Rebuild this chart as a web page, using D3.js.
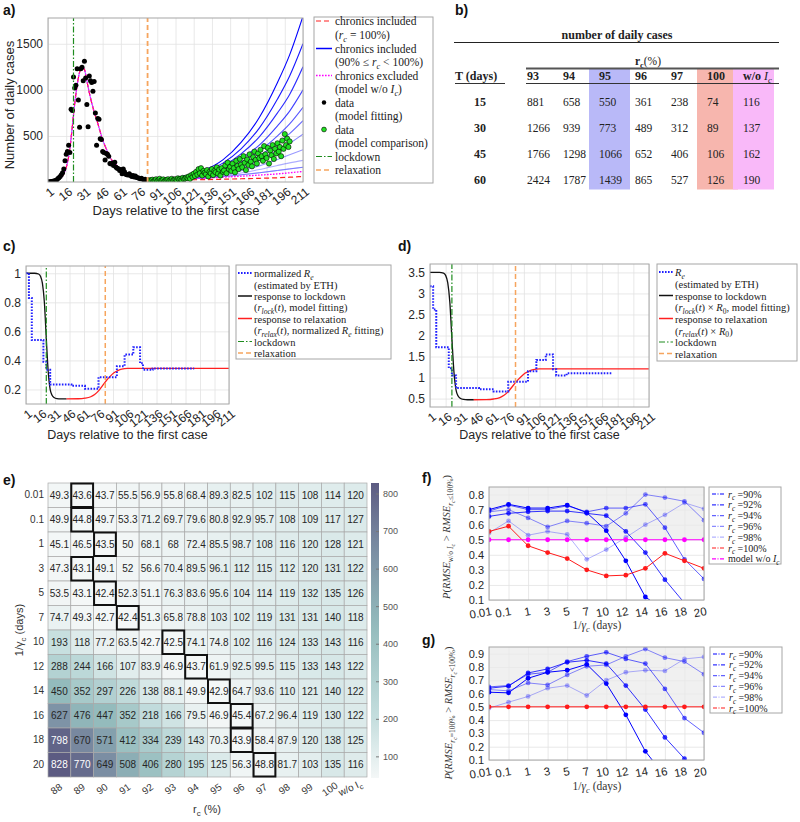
<!DOCTYPE html>
<html><head><meta charset="utf-8">
<script src="https://cdn.jsdelivr.net/npm/d3@7"></script>
<style>body{margin:0;background:#fff}</style>
</head><body>
<svg id="chart" width="800" height="822"></svg>
<script>
// ================= DATA =================
// panel a
const dayTicks = [1,16,31,46,61,76,91,106,121,136,151,166,181,196,211];
const caseTicks = [500,1000,1500];
const lockdownDay = 22, relaxDay = 83;
const fitStartDay = 1;
const dataFitCases = [0,2,3,5,8,10,15,20,35,45,
  60,80,100,140,230,300,330,400,320,790,
  775,1140,1020,1050,1230,890,595,1230,1245,1100,
  1310,1130,840,600,1150,1100,1080,985,1090,750,
  400,690,680,470,460,330,320,240,310,300,
  280,200,195,205,180,215,160,150,145,125,
  135,90,140,110,85,80,75,90,70,60,
  70,55,65,50,45,40,35,40,30,25,
  30,20,25,15];
const compStartDay = 85;
const dataCompCases = [20,15,25,10,18,30,12,22,35,15,20,28,10,18,25,30,
  15,22,35,18,25,30,20,40,28,35,22,45,30,38,50,
  42,60,35,75,55,90,65,110,80,140,95,150,70,120,100,
  85,130,60,110,95,140,75,120,105,160,90,135,70,150,110,
  125,180,95,210,140,165,120,200,150,105,230,175,140,250,190,
  160,280,210,130,245,185,300,220,170,270,330,240,200,310,260,
  350,280,230,390,300,260,370,200,340,290,400,250,360,310,420,
  330,380,280,450,360,520,400,470,380,440];
const fitDays  = [1,5,10,14,17,19,21,23,25,27,29,31,33,35,37,39,41,43,46,49,52,56,60,65,71,76,80];
const fitCases = [2,6,30,90,210,360,600,850,1050,1190,1245,1220,1100,970,860,760,680,590,460,360,270,200,150,105,80,55,35];
const modelDays = [84,100,115,130,145,160,175,190,200,211];
const rcBlue = [90,91,92,93,94,95,96,97,98,99];
const blueCurves = [
  [25,35,70,130,240,430,700,1080,1380,1800],
  [25,33,62,115,205,360,585,900,1150,1500],
  [25,32,57,100,175,305,490,750,950,1250],
  [25,31,52,88,150,255,400,610,770,1000],
  [25,30,48,78,130,215,335,500,630,810],
  [25,29,45,70,115,185,285,420,525,665],
  [25,28,42,63,100,155,235,340,420,520],
  [25,27,38,55,83,123,175,245,295,350],
  [25,26,35,48,70,98,135,180,208,235],
  [25,26,33,43,58,78,100,125,142,160]];
const redCurve100 = [25,24,24,26,30,35,40,46,52,60];
const magentaNoIc = [25,27,33,42,52,63,75,88,100,115];

// panel b
const tableRc = ['93','94','95','96','97','100','w/o Ic'];
const tableT = [15,30,45,60];
const tableVals = [
  [881,658,550,361,238,74,116],
  [1266,939,773,489,312,89,137],
  [1766,1298,1066,652,406,106,162],
  [2424,1787,1439,865,527,126,190]];

// panels c, d
const reTicksC = [0.2,0.4,0.6,0.8,1];
const reTicksD = [0.5,1,1.5,2,2.5,3,3.5];
const reDays = [1,4,7,19,22,26,48,62,76,95,103,112,119,122,132,175];
const reNorm = [1.0,0.83,0.54,0.39,0.335,0.235,0.225,0.205,0.285,0.36,0.44,0.49,0.38,0.335,0.345,0.345];
const reEst  = [3.17,2.62,1.72,1.22,1.05,0.75,0.72,0.67,0.90,1.15,1.42,1.55,1.20,1.05,1.10,1.10];
const lockDays = [1,10,14,16,18,20,22,24,26,28,30,33,37,43];
const rLock    = [1,1,0.995,0.98,0.93,0.8,0.55,0.32,0.2,0.16,0.145,0.137,0.135,0.135];
const relaxDays = [43,55,62,68,72,76,80,84,88,92,96,100,106,211];
const rRelax    = [0.135,0.136,0.14,0.15,0.165,0.19,0.225,0.26,0.29,0.315,0.33,0.34,0.345,0.345];
const R0 = 3.5;

// panel e
const heatCols = ['88','89','90','91','92','93','94','95','96','97','98','99','100','w/o Ic'];
const heatRows = ['0.01','0.1','1','3','5','7','10','12','14','16','18','20'];
const heatVals = [
  [49.3,43.6,43.7,55.5,56.9,55.8,68.4,89.3,82.5,102,115,108,114,120],
  [49.9,44.8,49.7,53.3,71.2,69.7,79.6,80.8,92.9,95.7,108,109,117,127],
  [45.1,46.5,43.5,50,68.1,68,72.4,85.5,98.7,108,116,120,128,121],
  [47.3,43.1,49.1,52,56.6,70.4,89.5,96.1,112,115,112,120,131,122],
  [53.5,43.1,42.4,52.3,51.1,76.3,83.6,95.6,104,114,119,132,135,126],
  [74.7,49.3,42.7,42.4,51.3,65.8,78.8,103,102,119,131,131,140,118],
  [193,118,77.2,63.5,42.7,42.5,74.1,74.8,102,116,124,133,143,116],
  [288,244,166,107,83.9,46.9,43.7,61.9,92.5,99.5,115,133,143,122],
  [450,352,297,226,138,88.1,49.9,42.9,64.7,93.6,110,121,140,122],
  [627,476,447,352,218,166,79.5,46.9,45.4,67.2,96.4,119,130,122],
  [798,670,571,412,334,239,143,70.3,43.9,58.4,87.9,120,138,125],
  [828,770,649,508,406,280,195,125,56.3,48.8,81.7,103,135,116]];
const cbarTicks = [100,200,300,400,500,600,700,800];

// panels f, g
const gammaTicks = ['0.01','0.1','1','3','5','7','10','12','14','16','18','20'];
const rcLines = ['90%','92%','94%','96%','98%'];
const fTicks = [0.1,0.2,0.3,0.4,0.5,0.6,0.7,0.8];
const gTicks = [0.1,0.2,0.3,0.4,0.5,0.6,0.7,0.8,0.9];
const fBlue = [
  [0.70,0.735,0.71,0.71,0.73,0.68,0.56,0.36,0.12,0.03,-0.1,-0.2],
  [0.655,0.675,0.685,0.69,0.69,0.675,0.66,0.555,0.415,0.235,0.08,-0.05],
  [0.69,0.73,0.70,0.70,0.725,0.685,0.71,0.71,0.735,0.58,0.37,0.24],
  [0.685,0.70,0.645,0.585,0.625,0.61,0.59,0.675,0.80,0.78,0.755,0.63],
  [0.545,0.625,0.53,0.555,0.535,0.37,0.435,0.515,0.60,0.665,0.745,0.705]];
const fRed = [0.555,0.59,0.46,0.415,0.375,0.30,0.26,0.265,0.31,0.41,0.36,0.31];
const fNoIc = [0.5,0.5,0.5,0.5,0.5,0.5,0.5,0.5,0.5,0.5,0.5,0.5];
const gBlue = [
  [0.61,0.605,0.715,0.76,0.775,0.82,0.675,0.44,0.165,-0.02,-0.2,-0.3],
  [0.64,0.655,0.755,0.785,0.835,0.85,0.825,0.66,0.48,0.27,0.11,-0.05],
  [0.65,0.66,0.745,0.76,0.84,0.88,0.91,0.86,0.825,0.635,0.415,0.305],
  [0.63,0.62,0.68,0.665,0.74,0.805,0.815,0.88,0.935,0.87,0.84,0.745],
  [0.49,0.535,0.578,0.64,0.66,0.585,0.70,0.76,0.775,0.77,0.86,0.875]];
const gRed = [0.5,0.5,0.5,0.5,0.5,0.5,0.5,0.5,0.5,0.5,0.5,0.5];

// ================= HELPERS =================
const svg = d3.select('#chart');
const SANS = '"Liberation Sans", Arial, Helvetica, sans-serif';
const SERIF = '"Liberation Serif", "Times New Roman", serif';
const defs = svg.append('defs');
let clipN = 0;

function rich(t, parts, size){
  let cur = 0;
  parts.forEach(p => {
    const s = p[0], f = p[1] || '';
    const lvl = f.includes('2') ? 2 : (f.includes('1') ? 1 : 0);
    const off = [0, 0.28, 0.45][lvl] * size;
    const fs = [1, 0.72, 0.56][lvl] * size;
    t.append('tspan').attr('dy', (off - cur).toFixed(2)).attr('font-size', fs.toFixed(2))
      .attr('font-style', f.includes('i') ? 'italic' : 'normal')
      .attr('font-weight', f.includes('b') ? 'bold' : 'normal').text(s);
    cur = off;
  });
  return t;
}
function panelLabel(x, y, s){
  svg.append('text').attr('x', x).attr('y', y).attr('font-family', SANS)
    .attr('font-weight', 'bold').attr('font-size', 14).attr('fill', '#111').text(s);
}
function clipFor(x, y){
  const id = 'clip' + (clipN++);
  const [xa, xb] = x.range(), [yb, ya] = y.range();
  defs.append('clipPath').attr('id', id).append('rect')
    .attr('x', xa).attr('y', ya).attr('width', xb - xa).attr('height', yb - ya);
  return `url(#${id})`;
}
function grid(g, x, y, xTicks, yTicks, bg){
  const [xa, xb] = x.range(), [yb, ya] = y.range();
  g.append('rect').attr('x', xa).attr('y', ya).attr('width', xb - xa).attr('height', yb - ya).attr('fill', bg || '#fff');
  g.append('g').attr('transform', `translate(0,${yb})`)
    .call(d3.axisBottom(x).tickValues(xTicks).tickSize(-(yb - ya)).tickFormat(''))
    .call(s => { s.select('.domain').remove(); s.selectAll('line').attr('stroke', '#e2e2e2').attr('stroke-width', 0.8); });
  g.append('g').attr('transform', `translate(${xa},0)`)
    .call(d3.axisLeft(y).tickValues(yTicks).tickSize(-(xb - xa)).tickFormat(''))
    .call(s => { s.select('.domain').remove(); s.selectAll('line').attr('stroke', '#e2e2e2').attr('stroke-width', 0.8); });
}
function box(g, x, y){
  const [xa, xb] = x.range(), [yb, ya] = y.range();
  g.append('rect').attr('x', xa).attr('y', ya).attr('width', xb - xa).attr('height', yb - ya)
    .attr('fill', 'none').attr('stroke', '#a6a6a6').attr('stroke-width', 1);
}
function yLabels(g, x, y, ticks, size){
  const xa = x.range()[0];
  g.append('g').attr('transform', `translate(${xa},0)`)
    .call(d3.axisLeft(y).tickValues(ticks).tickSize(0).tickPadding(5).tickFormat(d => String(d)))
    .call(s => { s.select('.domain').remove();
      s.selectAll('text').attr('font-family', SANS).attr('font-size', size).attr('fill', '#262626'); });
}
function xLabelsRot(g, x, y, ticks, size, angle, dx, dy, anchor){
  const yb = y.range()[0];
  g.append('g').attr('transform', `translate(0,${yb})`)
    .call(d3.axisBottom(x).tickValues(ticks).tickSize(0).tickFormat(d => String(d)))
    .call(s => { s.select('.domain').remove();
      s.selectAll('text').attr('font-family', SANS).attr('font-size', size).attr('fill', '#262626')
        .attr('y', 0).attr('dy', '0.35em').attr('text-anchor', anchor || 'end')
        .attr('transform', `translate(${dx},${dy}) rotate(${angle})`); });
}
function legendBox(x, y, w, h){
  svg.append('rect').attr('x', x).attr('y', y).attr('width', w).attr('height', h)
    .attr('fill', '#fff').attr('stroke', '#a6a6a6').attr('stroke-width', 1);
}
function legText(x, y, parts, size){
  const t = svg.append('text').attr('x', x).attr('y', y).attr('font-family', SERIF).attr('fill', '#222').attr('font-size', size);
  return rich(t, parts, size);
}
function legLine(x1, x2, y, color, dash, w){
  svg.append('line').attr('x1', x1).attr('x2', x2).attr('y1', y).attr('y2', y)
    .attr('stroke', color).attr('stroke-width', w || 1.5).attr('stroke-dasharray', dash || null);
}
const GREEN = '#1e8c1e', ORANGE = '#f6a55e';
const DASHDOT = '6,2,1.5,2', DASHED = '5,3', DOTTED = '1.6,1.4';

// ================= PANEL A =================
panelLabel(3, 15, 'a)');
{
  const x = d3.scaleLinear([1, 211], [48, 303]);
  const y = d3.scaleLinear([0, 1780], [182, 18]);
  const g = svg.append('g');
  grid(g, x, y, dayTicks, caseTicks);
  const clip = clipFor(x, y);
  const pg = g.append('g').attr('clip-path', clip);
  const line = d3.line().x(d => x(d[0])).y(d => y(d[1])).curve(d3.curveMonotoneX);
  const fitPts = fitDays.map((d, i) => [d, fitCases[i]]);
  const seg = arr => fitPts.concat(modelDays.map((d, i) => [d, arr[i]]));
  blueCurves.forEach((c, i) => {
    pg.append('path').attr('d', line(modelDays.map((d, k) => [d, c[k]])))
      .attr('fill', 'none').attr('stroke', '#0000ff').attr('stroke-opacity', 1 - i * 0.085).attr('stroke-width', 1.1);
  });
  pg.append('path').attr('d', line(seg(blueCurves[9]))).attr('fill', 'none').attr('stroke', '#7a7aff').attr('stroke-width', 1);
  pg.append('path').attr('d', line(seg(redCurve100))).attr('fill', 'none').attr('stroke', '#ff2020')
    .attr('stroke-width', 1.2).attr('stroke-dasharray', DASHED);
  pg.append('path').attr('d', line(seg(magentaNoIc))).attr('fill', 'none').attr('stroke', '#ff00ff')
    .attr('stroke-width', 1.3).attr('stroke-dasharray', DOTTED);
  g.append('line').attr('x1', x(lockdownDay)).attr('x2', x(lockdownDay)).attr('y1', y.range()[0]).attr('y2', y.range()[1])
    .attr('stroke', GREEN).attr('stroke-width', 1.2).attr('stroke-dasharray', DASHDOT);
  g.append('line').attr('x1', x(relaxDay)).attr('x2', x(relaxDay)).attr('y1', y.range()[0]).attr('y2', y.range()[1])
    .attr('stroke', ORANGE).attr('stroke-width', 1.8).attr('stroke-dasharray', DASHED);
  pg.selectAll('.bd').data(dataFitCases).join('circle').attr('cx', (d, i) => x(fitStartDay + i)).attr('cy', d => y(d))
    .attr('r', 2.5).attr('fill', '#000');
  pg.selectAll('.gd').data(dataCompCases).join('circle').attr('cx', (d, i) => x(compStartDay + i)).attr('cy', d => y(d))
    .attr('r', 2.6).attr('fill', '#22e022').attr('stroke', '#000').attr('stroke-width', 0.6);
  box(g, x, y);
  yLabels(g, x, y, caseTicks, 12);
  xLabelsRot(g, x, y, dayTicks, 12, -38, 4, 8);
  g.append('text').attr('transform', 'translate(14,105) rotate(-90)').attr('text-anchor', 'middle')
    .attr('font-family', SANS).attr('font-size', 13).attr('fill', '#262626').text('Number of daily cases');
  g.append('text').attr('x', 176).attr('y', 215).attr('text-anchor', 'middle')
    .attr('font-family', SANS).attr('font-size', 13).attr('fill', '#262626').text('Days relative to the first case');
  legendBox(314, 17, 119, 166);
  const lx = 335, fs = 11.5;
  const rows = [25, 39, 52.5, 66, 79.5, 93, 106.5, 120, 133.5, 147, 160.5, 174];
  legLine(316, 332, rows[0] - 4, '#ff2020', DASHED, 1.2);
  legText(lx, rows[0], [['chronics included']], fs);
  legText(lx, rows[1], [['('], ['r', 'i'], ['c', '1i'], [' = 100%)']], fs);
  legLine(316, 332, rows[2] - 4, '#0000ff', null, 1.5);
  legText(lx, rows[2], [['chronics included']], fs);
  legText(lx, rows[3], [['(90% ≤ '], ['r', 'i'], ['c', '1i'], [' < 100%)']], fs);
  legLine(316, 332, rows[4] - 4, '#ff00ff', DOTTED, 1.3);
  legText(lx, rows[4], [['chronics excluded']], fs);
  legText(lx, rows[5], [['(model w/o '], ['I', 'i'], ['c', '1i'], [')']], fs);
  svg.append('circle').attr('cx', 324).attr('cy', rows[6] - 4).attr('r', 2.2).attr('fill', '#000');
  legText(lx, rows[6], [['data']], fs);
  legText(lx, rows[7], [['(model fitting)']], fs);
  svg.append('circle').attr('cx', 324).attr('cy', rows[8] - 4).attr('r', 2.4).attr('fill', '#22e022').attr('stroke', '#000').attr('stroke-width', 0.6);
  legText(lx, rows[8], [['data']], fs);
  legText(lx, rows[9], [['(model comparison)']], fs);
  legLine(316, 332, rows[10] - 4, GREEN, DASHDOT, 1.2);
  legText(lx, rows[10], [['lockdown']], fs);
  legLine(316, 332, rows[11] - 4, ORANGE, DASHED, 1.5);
  legText(lx, rows[11], [['relaxation']], fs);
}

// ================= PANEL B =================
panelLabel(455, 15, 'b)');
{
  const g = svg.append('g');
  const xs = d3.scalePoint(tableRc, [527, 743]);
  const ys = d3.scalePoint(tableT, [106, 184]);
  const bandFill = {'95': '#b9b9f8', '100': '#f7b6ae', 'w/o Ic': '#f9b9f9'};
  Object.keys(bandFill).forEach(k => {
    const x0 = xs(k) - 10;
    g.append('rect').attr('x', x0).attr('y', 68.5).attr('width', Math.min(41, 779 - x0)).attr('height', 121)
      .attr('fill', bandFill[k]);
  });
  const txt = (x, y, s, opt) => g.append('text').attr('x', x).attr('y', y).attr('font-family', SERIF)
    .attr('font-size', opt.size || 11.5).attr('font-weight', opt.bold ? 'bold' : 'normal')
    .attr('text-anchor', opt.anchor || 'start').attr('fill', '#222').text(s);
  txt(617, 39, 'number of daily cases', {bold: true, size: 12, anchor: 'middle'});
  g.append('line').attr('x1', 454).attr('x2', 779).attr('y1', 42.5).attr('y2', 42.5).attr('stroke', '#222').attr('stroke-width', 1.2);
  const rcT = g.append('text').attr('x', 648).attr('y', 65).attr('text-anchor', 'middle').attr('font-family', SERIF).attr('fill', '#222');
  rich(rcT, [['r', 'b'], ['c', '1b'], ['(%)']], 11.5);
  g.append('line').attr('x1', 526).attr('x2', 779).attr('y1', 68.5).attr('y2', 68.5).attr('stroke', '#555').attr('stroke-width', 1.8);
  txt(455, 80, 'T (days)', {bold: true, size: 12});
  g.append('line').attr('x1', 455).attr('x2', 505).attr('y1', 83.5).attr('y2', 83.5).attr('stroke', '#333').attr('stroke-width', 1.2);
  g.append('line').attr('x1', 526).attr('x2', 779).attr('y1', 83.5).attr('y2', 83.5).attr('stroke', '#333').attr('stroke-width', 1.2);
  tableRc.forEach(c => {
    if (c === 'w/o Ic') {
      const t = g.append('text').attr('x', xs(c)).attr('y', 80).attr('font-family', SERIF).attr('fill', '#222');
      rich(t, [['w/o ', 'b'], ['I', 'i'], ['c', '1i']], 12);
    } else txt(xs(c), 80, c, {bold: true, size: 12});
  });
  tableT.forEach((t, r) => {
    txt(480, ys(t), String(t), {bold: true, size: 12, anchor: 'middle'});
    tableRc.forEach((c, k) => txt(xs(c), ys(t), String(tableVals[r][k]), {size: 11.5}));
  });
}

// ================= PANELS C & D =================
function rePanel(o){
  const x = d3.scaleLinear([1, 211], o.xr);
  const y = d3.scaleLinear(o.yd, o.yr);
  const g = svg.append('g');
  grid(g, x, y, dayTicks, o.yt);
  const pg = g.append('g').attr('clip-path', clipFor(x, y));
  const line = d3.line().x(d => x(d[0])).y(d => y(d[1]));
  pg.append('path').attr('d', line.curve(d3.curveMonotoneX)(lockDays.map((d, i) => [d, rLock[i] * o.scale])))
    .attr('fill', 'none').attr('stroke', '#111').attr('stroke-width', 1.3);
  pg.append('path').attr('d', line.curve(d3.curveMonotoneX)(relaxDays.map((d, i) => [d, rRelax[i] * o.scale])))
    .attr('fill', 'none').attr('stroke', '#ff2020').attr('stroke-width', 1.3);
  pg.append('path').attr('d', line.curve(d3.curveStepAfter)(reDays.map((d, i) => [d, o.re[i]])))
    .attr('fill', 'none').attr('stroke', '#2020ff').attr('stroke-width', 2).attr('stroke-dasharray', DOTTED);
  g.append('line').attr('x1', x(lockdownDay)).attr('x2', x(lockdownDay)).attr('y1', y.range()[0]).attr('y2', y.range()[1])
    .attr('stroke', GREEN).attr('stroke-width', 1.2).attr('stroke-dasharray', DASHDOT);
  g.append('line').attr('x1', x(relaxDay)).attr('x2', x(relaxDay)).attr('y1', y.range()[0]).attr('y2', y.range()[1])
    .attr('stroke', ORANGE).attr('stroke-width', 1.5).attr('stroke-dasharray', DASHED);
  box(g, x, y);
  yLabels(g, x, y, o.yt, 12);
  xLabelsRot(g, x, y, dayTicks, 12, -38, 4, 8);
  g.append('text').attr('x', (o.xr[0] + o.xr[1]) / 2).attr('y', 439).attr('text-anchor', 'middle')
    .attr('font-family', SANS).attr('font-size', 12.5).attr('fill', '#262626').text('Days relative to the first case');
  const L = o.leg;
  legendBox(L.x, L.y, L.w, L.h);
  const tx = L.x + 18, fs = 10.5;
  const rows = L.rows;
  legLine(L.x + 2, L.x + 16, rows[0] - 4, '#2020ff', DOTTED, 2);
  legText(tx, rows[0], L.t[0], fs);
  legText(tx, rows[1], [['(estimated by ETH)']], fs);
  legLine(L.x + 2, L.x + 16, rows[2] - 4, '#111', null, 1.5);
  legText(tx, rows[2], [['response to lockdown']], fs);
  legText(tx, rows[3], L.t[1], fs);
  legLine(L.x + 2, L.x + 16, rows[4] - 4, '#ff2020', null, 1.5);
  legText(tx, rows[4], [['response to relaxation']], fs);
  legText(tx, rows[5], L.t[2], fs);
  legLine(L.x + 2, L.x + 16, rows[6] - 4, GREEN, DASHDOT, 1.2);
  legText(tx, rows[6], [['lockdown']], fs);
  legLine(L.x + 2, L.x + 16, rows[7] - 4, ORANGE, DASHED, 1.5);
  legText(tx, rows[7], [['relaxation']], fs);
}
panelLabel(3, 251, 'c)');
rePanel({xr: [26, 229], yd: [0.1, 1.05], yr: [404, 266], yt: reTicksC, re: reNorm, scale: 1,
  leg: {x: 236, y: 265, w: 155, h: 94, rows: [277, 288.5, 300, 311, 322.5, 334, 345.5, 357],
    t: [[['normalized '], ['R', 'i'], ['e', '1i']],
        [['('], ['r', 'i'], ['lock', '1i'], ['('], ['t', 'i'], ['), model fitting)']],
        [['('], ['r', 'i'], ['relax', '1i'], ['('], ['t', 'i'], ['), normalized '], ['R', 'i'], ['e', '1i'], [' fitting)']]]}});
panelLabel(398, 251, 'd)');
rePanel({xr: [430, 649], yd: [0.3, 3.7], yr: [407, 264], yt: reTicksD, re: reEst, scale: R0,
  leg: {x: 657, y: 264, w: 140, h: 97, rows: [276, 288, 299.5, 311, 322.5, 334.5, 346, 357.5],
    t: [[['R', 'i'], ['e', '1i']],
        [['('], ['r', 'i'], ['lock', '1i'], ['('], ['t', 'i'], [') × '], ['R', 'i'], ['0', '1'], [', model fitting)']],
        [['('], ['r', 'i'], ['relax', '1i'], ['('], ['t', 'i'], [') × '], ['R', 'i'], ['0', '1'], [')']]]}});

// ================= PANEL E =================
panelLabel(3, 485, 'e)');
{
  const g = svg.append('g');
  const x = d3.scaleBand(heatCols, [48, 367]);
  const y = d3.scaleBand(heatRows, [483, 777]);
  const all = heatVals.flat();
  const vmin = d3.min(all), vmax = d3.max(all);
  const color = d3.scaleLinear().domain([vmin, 200, 450, 650, vmax])
    .range(['#f4f7f7', '#c5dede', '#93bbbc', '#7b8ea3', '#5c5b82']).interpolate(d3.interpolateRgb);
  heatVals.forEach((row, r) => row.forEach((v, c) => {
    g.append('rect').attr('x', x(heatCols[c])).attr('y', y(heatRows[r])).attr('width', x.bandwidth()).attr('height', y.bandwidth())
      .attr('fill', color(v)).attr('stroke', '#a9a9a9').attr('stroke-width', 0.7);
    g.append('text').attr('x', x(heatCols[c]) + x.bandwidth() / 2).attr('y', y(heatRows[r]) + y.bandwidth() / 2)
      .attr('dy', '0.36em').attr('text-anchor', 'middle').attr('font-family', SANS).attr('font-size', 10)
      .attr('fill', v > 700 ? '#fff' : '#262626').text(String(v));
  }));
  heatVals.forEach((row, r) => {
    const c = row.indexOf(d3.min(row));
    g.append('rect').attr('x', x(heatCols[c]) + 0.5).attr('y', y(heatRows[r]) + 0.5).attr('width', x.bandwidth() - 1)
      .attr('height', y.bandwidth() - 1).attr('fill', 'none').attr('stroke', '#111').attr('stroke-width', 2);
  });
  g.append('g').attr('transform', 'translate(48,0)')
    .call(d3.axisLeft(y).tickSize(0).tickPadding(4))
    .call(s => { s.select('.domain').remove(); s.selectAll('text').attr('font-family', SANS).attr('font-size', 10).attr('fill', '#333'); });
  g.append('g').attr('transform', 'translate(0,777)')
    .call(d3.axisBottom(x).tickSize(0).tickFormat(d => d === 'w/o Ic' ? '' : d))
    .call(s => { s.select('.domain').remove();
      s.selectAll('text').attr('font-family', SANS).attr('font-size', 10).attr('fill', '#333')
        .attr('y', 0).attr('dy', '0.35em').attr('text-anchor', 'middle').attr('transform', 'translate(-3,12) rotate(-35)');
      const last = s.selectAll('.tick').filter(d => d === 'w/o Ic').select('text').text(null).attr('transform', 'translate(-4,14) rotate(-25)');
      rich(last, [['w/o I'], ['c', '1']], 10);
    });
  const yt = g.append('text').attr('transform', 'translate(23,630) rotate(-90)').attr('text-anchor', 'middle')
    .attr('font-family', SANS).attr('fill', '#333');
  rich(yt, [['1/γ'], ['c', '1'], [' (days)']], 11);
  const xt = g.append('text').attr('x', 207).attr('y', 813).attr('text-anchor', 'middle').attr('font-family', SANS).attr('fill', '#333');
  rich(xt, [['r'], ['c', '1'], [' (%)']], 11);
  const cb = d3.scaleLinear([vmin, vmax], [778, 483]);
  const grad = defs.append('linearGradient').attr('id', 'cbg').attr('x1', 0).attr('x2', 0).attr('y1', 1).attr('y2', 0);
  d3.range(0, 1.0001, 0.05).forEach(t => grad.append('stop').attr('offset', t).attr('stop-color', color(vmin + t * (vmax - vmin))));
  g.append('rect').attr('x', 371).attr('y', 483).attr('width', 8).attr('height', 295).attr('fill', 'url(#cbg)');
  g.append('g').attr('transform', 'translate(379,0)')
    .call(d3.axisRight(cb).tickValues(cbarTicks).tickSize(-3).tickPadding(4))
    .call(s => { s.select('.domain').remove(); s.selectAll('line').attr('stroke', '#777');
      s.selectAll('text').attr('font-family', SANS).attr('font-size', 9).attr('fill', '#555'); });
}

// ================= PANELS F & G =================
function probPanel(o){
  const x = d3.scalePoint(gammaTicks, [489, 704]);
  const y = d3.scaleLinear(o.yd, o.yr);
  const g = svg.append('g');
  grid(g, x, y, gammaTicks, o.yt);
  g.append('rect').attr('x', 489).attr('y', o.yr[1]).attr('width', 215).attr('height', y(0.5) - o.yr[1])
    .attr('fill', '#e9e9e9').attr('fill-opacity', 0.7);
  const pg = g.append('g').attr('clip-path', clipFor(x, y));
  const line = d3.line().x((d, i) => x(gammaTicks[i])).y(d => y(d));
  const series = o.blue.map((s, i) => ({vals: s, color: '#0000ff', op: [1, 0.8, 0.62, 0.46, 0.3][i]}));
  o.extra.forEach(e => series.push(e));
  series.forEach(s => {
    pg.append('path').attr('d', line(s.vals)).attr('fill', 'none').attr('stroke', s.color).attr('stroke-opacity', s.op).attr('stroke-width', 1);
    pg.selectAll(null).data(s.vals).join('circle').attr('cx', (d, i) => x(gammaTicks[i])).attr('cy', d => y(d))
      .attr('r', 2.4).attr('fill', s.color).attr('fill-opacity', s.op);
  });
  box(g, x, y);
  yLabels(g, {range: () => [489]}, y, o.yt, 11);
  xLabelsRot(g, x, y, gammaTicks, 11.5, -10, 2, 11);
  const xt = g.append('text').attr('x', 597).attr('y', o.xtY).attr('text-anchor', 'middle').attr('font-family', SERIF).attr('fill', '#333');
  rich(xt, [['1/'], ['γ', 'i'], ['c', '1i'], [' (days)']], 11.5);
  const yt = g.append('text').attr('transform', `translate(${o.ytX},${o.ytY}) rotate(-90)`).attr('text-anchor', 'middle')
    .attr('font-family', SERIF).attr('fill', '#333');
  rich(yt, o.ytParts, 10.5);
  const L = o.leg;
  legendBox(L.x, L.y, 72, L.h);
  series.forEach((s, i) => {
    const yy = L.y + 7 + i * L.step;
    svg.append('line').attr('x1', L.x + 3).attr('x2', L.x + 16).attr('y1', yy).attr('y2', yy)
      .attr('stroke', s.color).attr('stroke-opacity', s.op).attr('stroke-width', 1.2).attr('stroke-dasharray', '4,1.5,1,1.5');
    const parts = i < 5 ? [['r', 'i'], ['c', '1i'], [' =' + rcLines[i]]] : s.label;
    legText(L.x + 19, yy + 3.5, parts, 10);
  });
}
panelLabel(422, 483, 'f)');
probPanel({yd: [0.1, 0.85], yr: [600, 487], yt: fTicks, blue: fBlue,
  extra: [{vals: fRed, color: '#ff1a1a', op: 1, label: [['r', 'i'], ['c', '1i'], [' =100%']]},
          {vals: fNoIc, color: '#ff00ff', op: 1, label: [['model w/o '], ['I', 'i'], ['c', '1i']]}],
  xtY: 629, ytX: 450, ytY: 537,
  ytParts: [['P', 'i'], ['('], ['RMSE', 'i'], ['w/o ', '1'], ['I', '1i'], ['c', '2i'], [' > ', ''], ['RMSE', 'i'], ['r', '1i'], ['c', '2i'], ['≤100%', '1'], [')']],
  leg: {x: 709, y: 487, h: 77, step: 10.8}});
panelLabel(422, 645, 'g)');
probPanel({yd: [0.1, 0.95], yr: [760, 647], yt: gTicks, blue: gBlue,
  extra: [{vals: gRed, color: '#ff1a1a', op: 1, label: [['r', 'i'], ['c', '1i'], [' =100%']]}],
  xtY: 790, ytX: 452, ytY: 713,
  ytParts: [['P', 'i'], ['('], ['RMSE', 'i'], ['r', '1i'], ['c', '2i'], ['=100%', '1'], [' > ', ''], ['RMSE', 'i'], ['r', '1i'], ['c', '2i'], ['<100%', '1'], [')']],
  leg: {x: 710, y: 647, h: 66, step: 10.8}});
</script>
</body></html>
